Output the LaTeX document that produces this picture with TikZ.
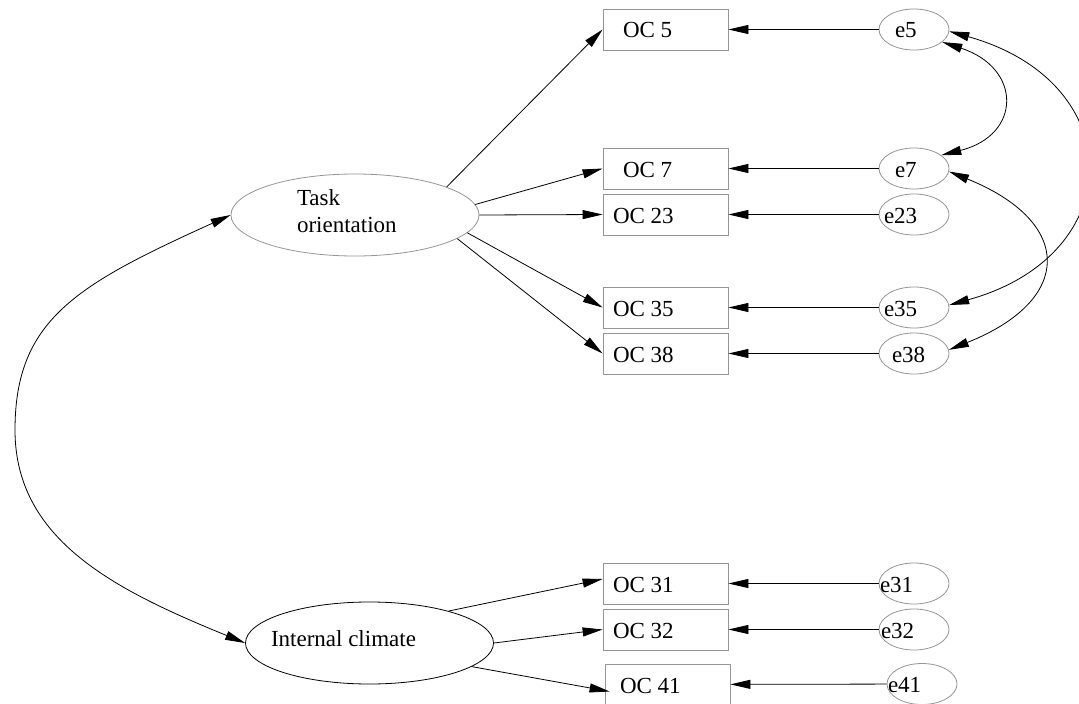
\documentclass[tikz,border=0pt]{standalone}
\usepackage{fontspec}
\setmainfont{Liberation Serif}
\usetikzlibrary{arrows.meta,shapes.geometric}
\definecolor{lgray}{RGB}{150,150,150}
% text placed at offset (dx,dy) from node centre, baseline-based
\newcommand{\lt}[3]{\makebox[0pt][l]{\hspace*{#1pt}\raisebox{#2pt}[0pt][0pt]{#3}}}
\begin{document}
\begin{tikzpicture}[x=1pt,y=-1pt,
  every node/.style={font=\fontsize{23}{27}\selectfont, inner sep=0pt},
  obs/.style={draw=lgray, line width=0.8pt, rectangle, minimum width=125pt, minimum height=41pt},
  err/.style={draw=lgray, line width=0.8pt, ellipse, minimum width=70pt, minimum height=41pt},
  lat/.style={ellipse, line width=0.8pt, minimum width=248pt, minimum height=82pt},
  load/.style={-{Triangle[length=20pt,width=9pt]}, line width=0.8pt},
  covar/.style={{Triangle[length=20pt,width=9pt]}-{Triangle[length=20pt,width=9pt]}, line width=0.8pt},
]
\clip (0,0) rectangle (1079,704);
\fill[white] (0,0) rectangle (1079,704);

% observed variables
\node[obs] (oc5)  at (665.5,29.5)  {\lt{-42.5}{-8.5}{OC 5}};
\node[obs] (oc7)  at (665.5,168.5) {\lt{-42.5}{-8.5}{OC 7}};
\node[obs] (oc23) at (665.5,214.5) {\lt{-52.5}{-8.5}{OC 23}};
\node[obs] (oc35) at (665.5,307.5) {\lt{-52.5}{-8.5}{OC 35}};
\node[obs] (oc38) at (665.5,353.5) {\lt{-52.5}{-8.5}{OC 38}};
\node[obs] (oc31) at (665.5,583.5) {\lt{-52.5}{-8.5}{OC 31}};
\node[obs] (oc32) at (665.5,629.5) {\lt{-52.5}{-8.5}{OC 32}};
\node[obs] (oc41) at (667.5,684.5) {\lt{-47.5}{-8.5}{OC 41}};

% error terms
\node[err] (e5)  at (914,29.5)  {\lt{-19}{-8.5}{e5}};
\node[err] (e7)  at (914,168.5) {\lt{-19}{-8.5}{e7}};
\node[err] (e23) at (914,214.5) {\lt{-30}{-8.5}{e23}};
\node[err] (e35) at (914,307.5) {\lt{-30}{-8.5}{e35}};
\node[err] (e38) at (914,353.5) {\lt{-22}{-8.5}{e38}};
\node[err] (e31) at (914,583.5) {\lt{-34}{-8.5}{e31}};
\node[err] (e32) at (914,629.5) {\lt{-33}{-8.5}{e32}};
\node[err] (e41) at (922,684)   {\lt{-34}{-8.5}{e41}};

% latent variables
\node[lat, draw=lgray] (task) at (355,215) {\lt{-58}{10}{Task}\lt{-58}{-17}{orientation}};
\node[lat, draw=black] (ic) at (369.5,643) {\lt{-98.5}{-3}{Internal climate}};

% loadings
\draw[load] (task.17.7) -- (oc5.west);
\draw[load] (task.5.6) -- (oc7.west);
\draw[load] (task.east) -- (oc23.west);
\draw[load] (task.-9.6) -- (oc35.west);
\draw[load] (task.-13.5) -- (oc38.west);
\draw[load] (ic.22.2) -- ([yshift=4.5pt]oc31.west);
\draw[load] (ic.east) -- (oc32.west);
\draw[load] (ic.-13.2) -- ([xshift=5pt,yshift=-7pt]oc41.west);

% error paths
\draw[load] (e5) -- (oc5);
\draw[load] (e7) -- (oc7);
\draw[load] (e23) -- (oc23);
\draw[load] (e35) -- (oc35);
\draw[load] (e38) -- (oc38);
\draw[load] (e31) -- (oc31);
\draw[load] (e32) -- (oc32);
\draw[load] (e41) -- (oc41);

% covariances
\draw[covar] (e5.-24) .. controls (1022,68) and (1022,135) .. (e7.26);
\draw[covar] (e5.-3) .. controls (1130,82) and (1130,255) .. (e35.4);
\draw[covar] (e7.-5) .. controls (1074,222) and (1074,300) .. (e38.6);
\coordinate (lmid) at (15,430);
\draw[covar] (task.west) .. controls (76,285) and (15,320) .. (lmid)
  .. controls (15,540) and (115,590) .. (ic.west);
\end{tikzpicture}
\end{document}
